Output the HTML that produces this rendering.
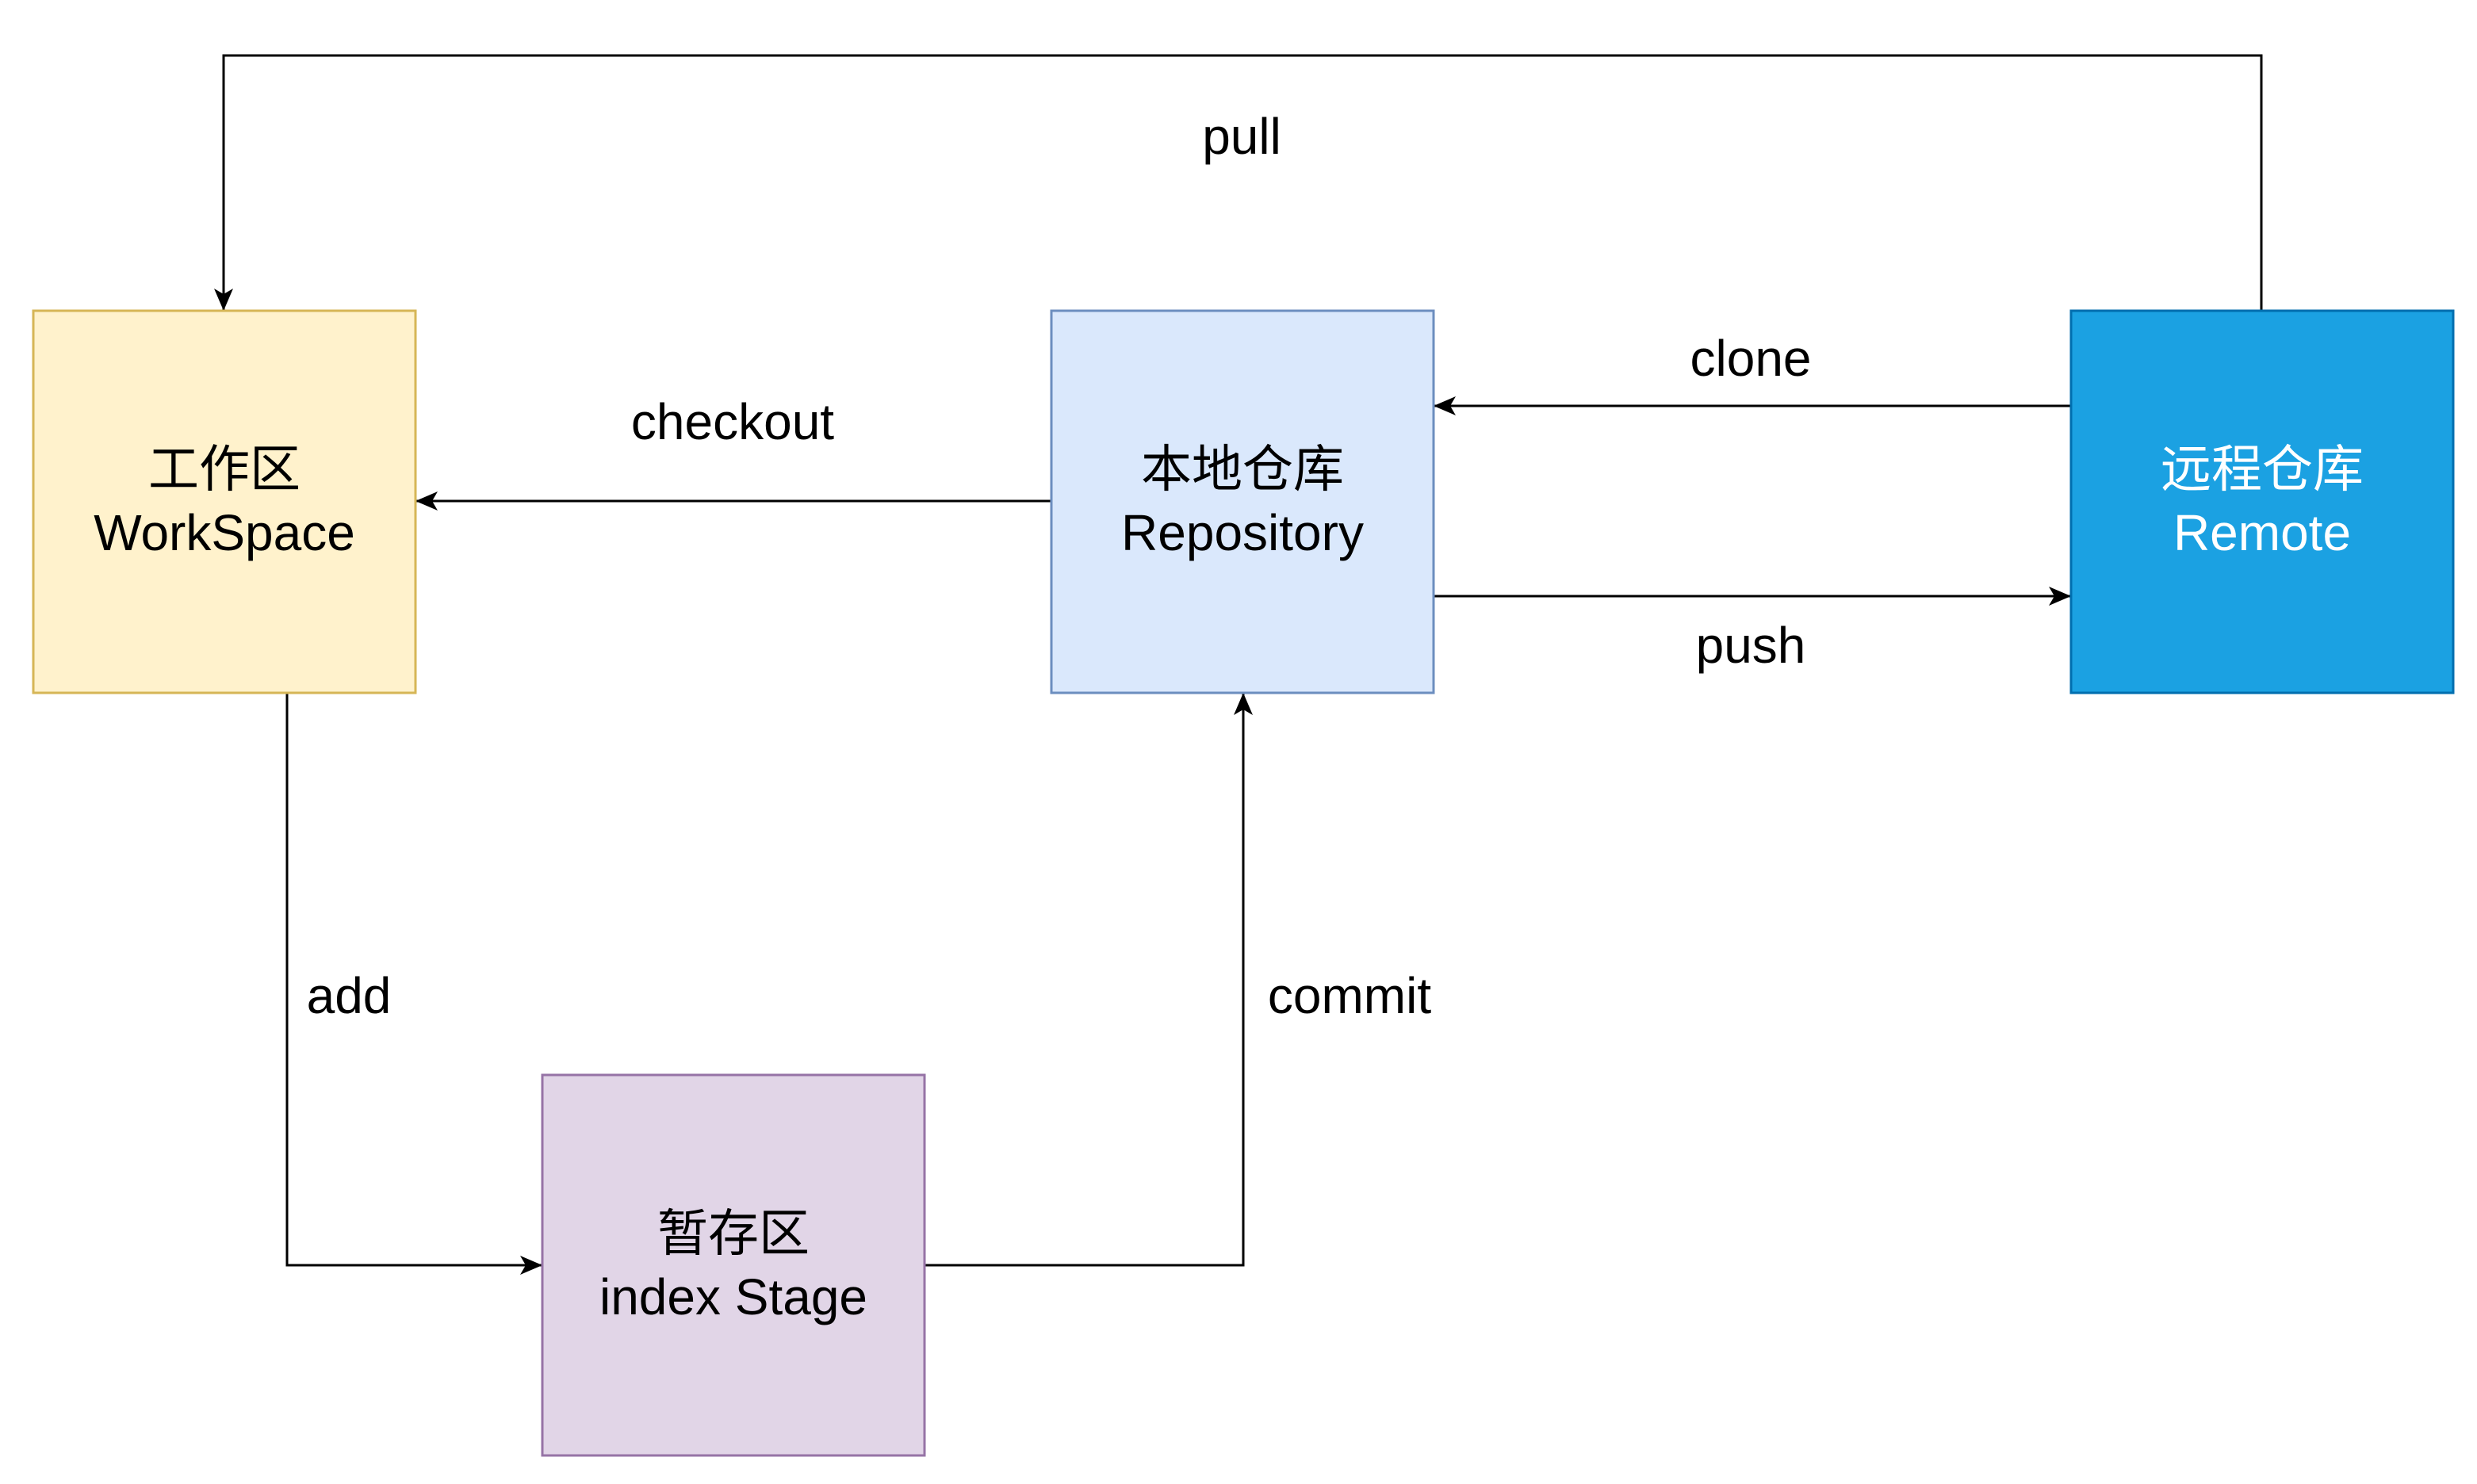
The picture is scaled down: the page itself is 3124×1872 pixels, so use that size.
<!DOCTYPE html>
<html><head><meta charset="utf-8"><style>
html,body{margin:0;padding:0;background:#fff;}
svg{display:block;}
text{font-family:"Liberation Sans","Noto Sans CJK SC",sans-serif;font-size:64px;fill:#000;}
</style></head><body>
<svg width="3124" height="1872" viewBox="0 0 3124 1872" xmlns="http://www.w3.org/2000/svg">
<defs>
<marker id="a" markerWidth="28" markerHeight="24" refX="28" refY="12" orient="auto" markerUnits="userSpaceOnUse" viewBox="0 0 28 24">
<path d="M0,0 L28,12 L0,24 L7,12 Z" fill="#000"/>
</marker>
</defs>
<g fill="none" stroke="#000" stroke-width="3">
<path d="M2852,392 V70 H282 V392" marker-end="url(#a)"/>
<path d="M2612,512 H1808" marker-end="url(#a)"/>
<path d="M1808,752 H2612" marker-end="url(#a)"/>
<path d="M1326,632 H524" marker-end="url(#a)"/>
<path d="M362,874 V1596 H684" marker-end="url(#a)"/>
<path d="M1166,1596 H1568 V874" marker-end="url(#a)"/>
</g>
<rect x="42" y="392" width="482" height="482" fill="#fff2cc" stroke="#d6b656" stroke-width="3"/>
<rect x="1326" y="392" width="482" height="482" fill="#dae8fc" stroke="#6c8ebf" stroke-width="3"/>
<rect x="2612" y="392" width="482" height="482" fill="#1ba1e2" stroke="#006eaf" stroke-width="3"/>
<rect x="684" y="1356" width="482" height="480" fill="#e1d5e7" stroke="#9673a6" stroke-width="3"/>
<g text-anchor="middle">
<text x="283" y="614">工作区</text>
<text x="283" y="694">WorkSpace</text>
<text x="1567" y="614">本地仓库</text>
<text x="1567" y="694">Repository</text>
<text x="2853" y="614" style="fill:#fff">远程仓库</text>
<text x="2853" y="694" style="fill:#fff">Remote</text>
<text x="925" y="1578">暂存区</text>
<text x="925" y="1658">index Stage</text>
<text x="1566" y="194">pull</text>
<text x="2208" y="474">clone</text>
<text x="2208" y="836">push</text>
<text x="924" y="554">checkout</text>
<text x="440" y="1278">add</text>
<text x="1702" y="1278">commit</text>
</g>
</svg>
</body></html>
